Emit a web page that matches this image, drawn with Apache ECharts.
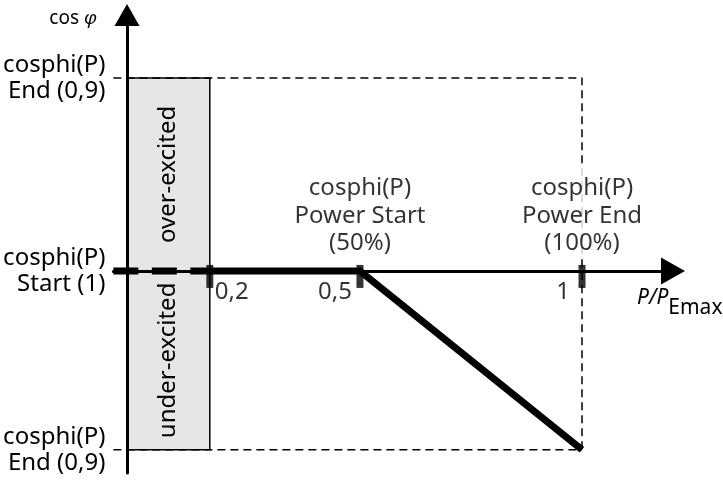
<!DOCTYPE html>
<html>
<head>
<meta charset="utf-8">
<script src="https://cdn.jsdelivr.net/npm/echarts@6/dist/echarts.min.js"></script>
<style>
html, body { margin: 0; padding: 0; background: #fff; }
#chart { width: 723px; height: 483px; }
</style>
</head>
<body>
<div id="chart"></div>
<script>
// schematic x positions (P/PEmax axis, origin = 0, "1" tick = 1)
var tickPos = [0.182, 0.512, 1];
var tickLabels = ['0,2', '0,5', '1'];
// schematic y levels: 1 = End over-excited, 0 = Start (1), -0.927 = End under-excited
var levelPos = [1, 0, -0.927];
var levelLabels = ['cosphi(P)\nEnd (0,9)', 'cosphi(P)\nStart (1)', 'cosphi(P)\nEnd (0,9)'];
var curveDashed = [[-0.03, 0], [0.182, 0]];
var curveSolid = [[0.182, 0], [0.512, 0], [1, -0.927]];
var frameTop = [[-0.03, 1], [1, 1], [1, -0.927]];
var frameBottom = [[-0.03, -0.927], [1, -0.927]];
var zoneNames = ['over-excited', 'under-excited'];
var zoneX = [0, 0.182];
var notes = ['cosphi(P)\nPower Start\n(50%)', 'cosphi(P)\nPower End\n(100%)'];
var noteX = [0.512, 1];

// label nudges (px) so the tick numbers sit beside their bars
var tickLabelShift = [22, -25, -19];

var FONT = 'Noto Sans';
var INK = '#000';

function findIdx(arr, v) {
	for (var i = 0; i < arr.length; i++) {
		if (Math.abs(arr[i] - v) < 1e-6) return i;
	}
	return -1;
}

var chart = echarts.init(document.getElementById('chart'));

var zoneData = [
	[zoneX[0], zoneX[1], levelPos[1], levelPos[0], zoneNames[0]],
	[zoneX[0], zoneX[1], levelPos[2], levelPos[1], zoneNames[1]]
];

var option = {
	animation: false,
	textStyle: { fontFamily: FONT, color: INK },
	grid: {
		left: 113.35,
		right: 50,
		top: 15,
		bottom: 10,
		outerBoundsMode: 'none'
	},
	xAxis: {
		type: 'value',
		min: -0.03,
		max: 1.2,
		z: 3,
		splitLine: { show: false },
		axisTick: { show: false },
		axisLabel: { show: false },
		axisLine: {
			onZero: true,
			lineStyle: { color: '#000', width: 3 },
			symbol: ['none', 'triangle'],
			symbolSize: [27, 24]
		},
		name: '{i|P/P}{s|Emax}',
		nameLocation: 'end',
		nameGap: -36,
		nameTextStyle: {
			align: 'left',
			verticalAlign: 'top',
			padding: [17, 0, 0, 0],
			rich: {
				i: { fontSize: 21, fontFamily: FONT, fontStyle: 'italic', color: INK, lineHeight: 20, verticalAlign: 'top' },
				s: { fontSize: 21, fontFamily: FONT, color: INK, lineHeight: 31, verticalAlign: 'bottom' }
			}
		}
	},
	yAxis: {
		type: 'value',
		min: -1.047,
		max: 1.326,
		z: 3,
		splitLine: { show: false },
		axisTick: { show: false },
		axisLine: {
			onZero: true,
			lineStyle: { color: '#000', width: 3 },
			symbol: ['none', 'triangle'],
			symbolSize: [25, 22]
		},
		axisLabel: {
			customValues: levelPos,
			margin: 8,
			fontSize: 24,
			lineHeight: 26,
			color: INK,
			formatter: function (v) {
				return levelLabels[findIdx(levelPos, v)];
			}
		},
		name: 'cos {i|φ}',
		nameLocation: 'end',
		nameGap: -4,
		nameTextStyle: {
			fontSize: 19,
			color: INK,
			align: 'right',
			verticalAlign: 'middle',
			padding: [0, 30, 0, 0],
			rich: {
				i: { fontSize: 19, fontFamily: FONT, fontStyle: 'italic', color: INK }
			}
		}
	},
	series: [
		{
			// gray excitation zones
			type: 'custom',
			z: 1,
			data: zoneData,
			renderItem: function (params, api) {
				var p0 = api.coord([api.value(0), api.value(3)]);
				var p1 = api.coord([api.value(1), api.value(2)]);
				return {
					type: 'group',
					children: [
						{
							type: 'rect',
							shape: { x: p0[0], y: p0[1], width: p1[0] - p0[0], height: p1[1] - p0[1] },
							style: { fill: '#e6e6e6', stroke: '#000', lineWidth: 1.5 }
						},
						{
							type: 'text',
							x: (p0[0] + p1[0]) / 2,
							y: (p0[1] + p1[1]) / 2,
							rotation: Math.PI / 2,
							style: {
								text: api.value(4),
								align: 'center',
								verticalAlign: 'middle',
								fontSize: 24,
								fontFamily: FONT,
								fill: INK
							}
						}
					]
				};
			}
		},
		{
			type: 'line',
			z: 2,
			data: frameTop,
			symbol: 'none',
			lineStyle: { color: '#000', width: 1.5, type: [8, 5] }
		},
		{
			type: 'line',
			z: 2,
			data: frameBottom,
			symbol: 'none',
			lineStyle: { color: '#000', width: 1.5, type: [8, 5] }
		},
		{
			type: 'line',
			z: 4,
			data: curveDashed,
			symbol: 'none',
			lineStyle: { color: '#000', width: 7, type: [25, 13.5] }
		},
		{
			type: 'line',
			z: 4,
			data: curveSolid,
			symbol: 'none',
			lineStyle: { color: '#000', width: 7, join: 'miter' }
		},
		{
			// short tick bars on the P axis
			type: 'scatter',
			z: 5,
			data: tickPos.map(function (x) { return [x, 0]; }),
			symbol: 'rect',
			symbolSize: [7, 23],
			symbolOffset: [0, 5.5],
			itemStyle: { color: '#000' }
		},
		{
			// tick numbers
			type: 'scatter',
			z: 5,
			symbolSize: 0,
			data: tickPos.map(function (x, i) {
				return { value: [x, 0], name: tickLabels[i], label: { offset: [tickLabelShift[i], 0] } };
			}),
			label: {
				show: true,
				position: 'bottom',
				distance: 9,
				align: 'center',
				fontSize: 24,
				lineHeight: 24,
				color: INK,
				formatter: function (p) { return p.name; }
			}
		},
		{
			type: 'scatter',
			z: 6,
			data: noteX.map(function (x, i) { return { value: [x, 0], name: notes[i] }; }),
			symbolSize: 0,
			label: {
				show: true,
				position: 'top',
				distance: 12,
				align: 'center',
				fontSize: 24,
				lineHeight: 27.5,
				color: INK,
				backgroundColor: '#fff',
				padding: [10, 4, 2, 4],
				formatter: function (p) { return p.name; }
			}
		}
	]
};

chart.setOption(option);
</script>
</body>
</html>
